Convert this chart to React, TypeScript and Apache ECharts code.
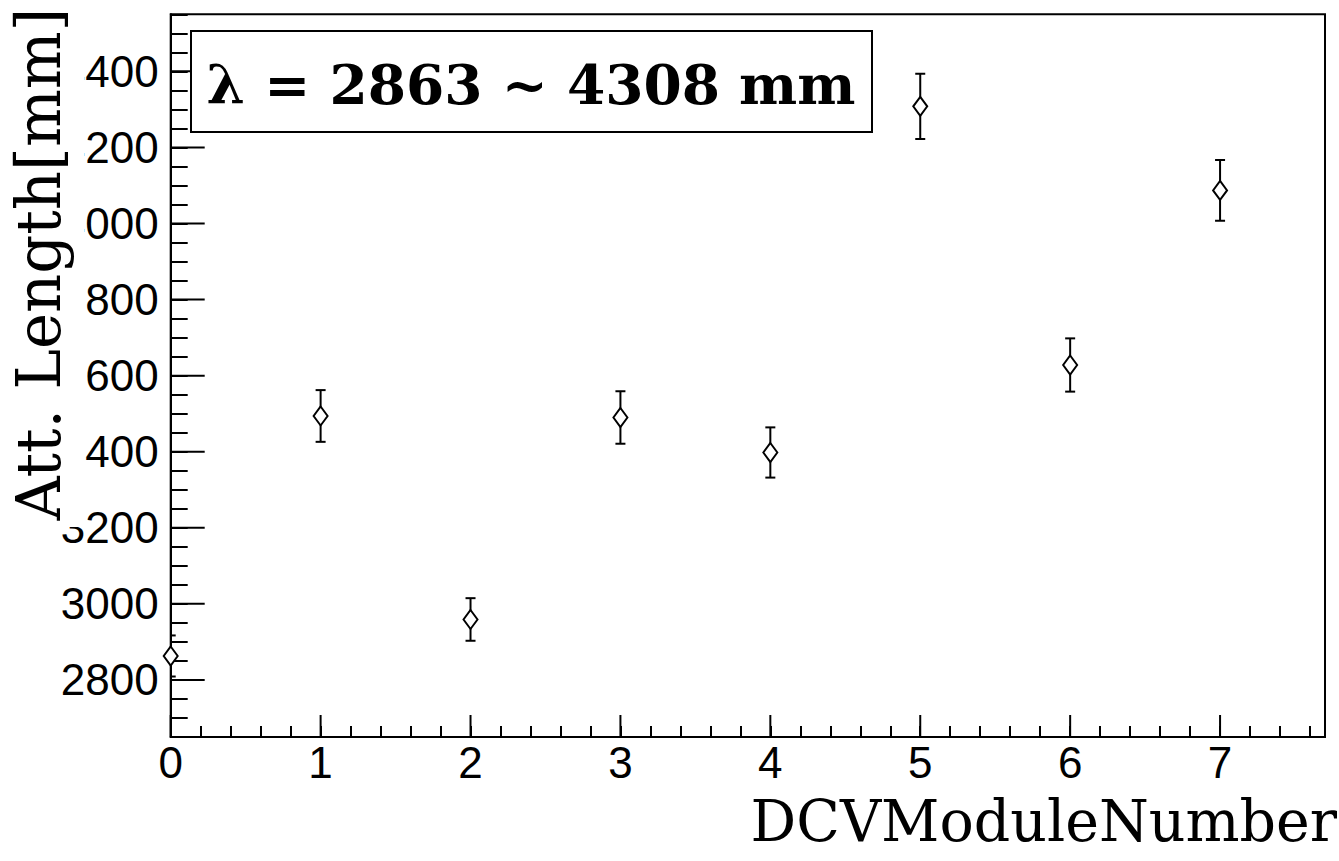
import React, { useEffect, useRef } from "react";
import * as echarts from "echarts";

// Attenuation length per DCV module, with its fit uncertainty
const moduleNumbers = [0, 1, 2, 3, 4, 5, 6, 7];
const attLengths = [2863, 3494, 2959, 3490, 3398, 4308, 3628, 4087];
const attErrors = [54, 68, 56, 69, 66, 86, 70, 80];

// Axis ranges and major tick positions
const xRange = [0, 7.7];
const yRange = [2650, 4550];
const xMajorTicks = [0, 1, 2, 3, 4, 5, 6, 7];
const yMajorTicks = [2800, 3000, 3200, 3400, 3600, 3800, 4000, 4200, 4400];

const summaryText = "λ = 2863 ~ 4308 mm";
const xTitle = "DCVModuleNumber";
const yTitle = "Att. Length[mm]";

const W = 1339;
const H = 861;
const GRID = { left: 170.7, top: 14.3, right: 14, bottom: 124 };

export default function App() {
  const ref = useRef<HTMLDivElement>(null);

  useEffect(() => {
    if (!ref.current) return;
    const chart = echarts.init(ref.current, null, { renderer: "svg" });

    const errData = moduleNumbers.map((x, i) => [
      x,
      attLengths[i] - attErrors[i],
      attLengths[i] + attErrors[i],
    ]);
    const pts = moduleNumbers.map((x, i) => [x, attLengths[i]]);

    const isInt = (v: number) => Math.abs(v - Math.round(v)) < 1e-6;

    chart.setOption({
      animation: false,
      backgroundColor: "#fff",
      grid: {
        left: GRID.left,
        top: GRID.top,
        right: GRID.right,
        bottom: GRID.bottom,
        show: true,
        borderColor: "#000",
        borderWidth: 2,
        containLabel: false,
      },
      xAxis: {
        type: "value",
        min: xRange[0],
        max: xRange[1],
        interval: 0.2,
        splitLine: { show: false },
        axisLine: { show: true, onZero: false, lineStyle: { color: "#000", width: 2 } },
        axisTick: { show: true, inside: true, length: 11, lineStyle: { color: "#000", width: 2 } },
        axisLabel: {
          margin: 8,
          color: "#000",
          fontFamily: "Liberation Sans",
          fontSize: 44,
          lineHeight: 34,
          formatter: (v: number) => (isInt(v) && v <= 7 ? String(Math.round(v)) : ""),
        },
      },
      yAxis: {
        type: "value",
        min: yRange[0],
        max: yRange[1],
        interval: 50,
        splitLine: { show: false },
        axisLine: { show: true, onZero: false, lineStyle: { color: "#000", width: 2 } },
        axisTick: { show: true, inside: true, length: 17, lineStyle: { color: "#000", width: 2 } },
        axisLabel: {
          margin: 12,
          color: "#000",
          fontFamily: "Liberation Sans",
          fontSize: 44,
          formatter: (v: number) => (Math.round(v) % 200 === 0 ? String(Math.round(v)) : ""),
        },
      },
      series: [
        {
          // long ticks at the labelled values on the y axis
          type: "custom",
          data: yMajorTicks.map((v) => [xRange[0], v]),
          silent: true,
          z: 3,
          renderItem: (params: any, api: any) => {
            const p = api.coord([api.value(0), api.value(1)]);
            return {
              type: "line",
              shape: { x1: p[0], y1: p[1], x2: p[0] + 34, y2: p[1] },
              style: { stroke: "#000", lineWidth: 2 },
            };
          },
        },
        {
          // long ticks at the labelled values on the x axis
          type: "custom",
          data: xMajorTicks.map((v) => [v, yRange[0]]),
          silent: true,
          z: 3,
          renderItem: (params: any, api: any) => {
            const p = api.coord([api.value(0), api.value(1)]);
            return {
              type: "line",
              shape: { x1: p[0], y1: p[1], x2: p[0], y2: p[1] - 22 },
              style: { stroke: "#000", lineWidth: 2 },
            };
          },
        },
        {
          // vertical error bars with end caps
          type: "custom",
          data: errData,
          clip: true,
          silent: true,
          z: 4,
          renderItem: (params: any, api: any) => {
            const x = api.value(0);
            const lo = api.coord([x, api.value(1)]);
            const hi = api.coord([x, api.value(2)]);
            const cap = 5;
            const st = { stroke: "#000", lineWidth: 2 };
            return {
              type: "group",
              children: [
                { type: "line", shape: { x1: hi[0], y1: hi[1], x2: lo[0], y2: lo[1] }, style: st },
                { type: "line", shape: { x1: hi[0] - cap, y1: hi[1], x2: hi[0] + cap, y2: hi[1] }, style: st },
                { type: "line", shape: { x1: lo[0] - cap, y1: lo[1], x2: lo[0] + cap, y2: lo[1] }, style: st },
              ],
            };
          },
        },
        {
          type: "scatter",
          data: pts,
          clip: false,
          z: 5,
          symbol: "diamond",
          symbolSize: [14, 19],
          itemStyle: { color: "#fff", borderColor: "#000", borderWidth: 2, opacity: 1 },
          emphasis: { disabled: true },
        },
      ],
      graphic: [
        {
          // white band behind the y-axis title
          type: "rect",
          z: 100,
          shape: { x: 0, y: 0, width: 84, height: 527 },
          style: { fill: "#fff" },
        },
        {
          type: "text",
          z: 101,
          x: 38,
          y: 264,
          rotation: Math.PI / 2,
          style: {
            text: yTitle,
            fontFamily: "DejaVu Serif",
            fontSize: 61,
            fill: "#000",
            align: "center",
            verticalAlign: "middle",
          },
        },
        {
          type: "text",
          z: 101,
          x: 1337,
          y: 821,
          style: {
            text: xTitle,
            fontFamily: "DejaVu Serif",
            fontSize: 57,
            lineHeight: 44,
            fill: "#000",
            align: "right",
            verticalAlign: "middle",
          },
        },
        {
          type: "rect",
          z: 100,
          shape: { x: 191, y: 31, width: 681, height: 101 },
          style: { fill: "#fff", stroke: "#000", lineWidth: 2 },
        },
        {
          type: "text",
          z: 101,
          x: 531,
          y: 84,
          style: {
            text: summaryText,
            fontFamily: "DejaVu Serif",
            fontWeight: "bold",
            fontSize: 55,
            fill: "#000",
            align: "center",
            verticalAlign: "middle",
          },
        },
      ],
    });

    return () => chart.dispose();
  }, []);

  return (
    <div
      ref={ref}
      style={{ position: "fixed", left: 0, top: 0, width: W, height: H }}
    />
  );
}
